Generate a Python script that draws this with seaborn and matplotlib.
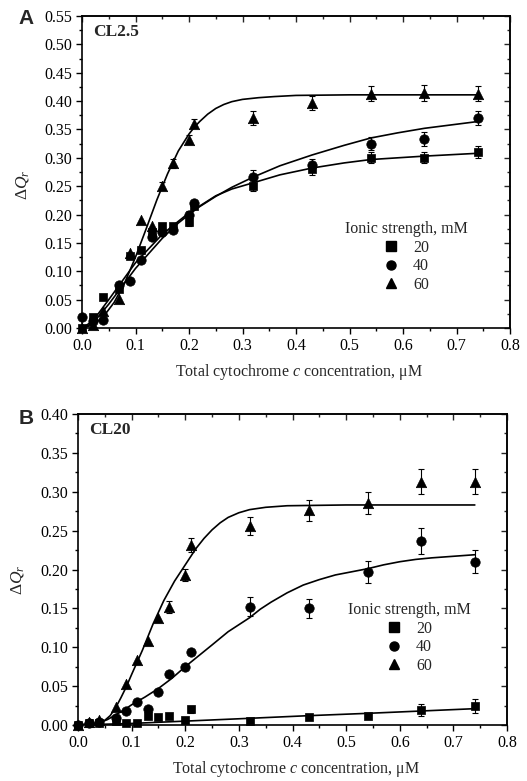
import numpy as np
import pandas as pd
import seaborn as sns
import matplotlib
matplotlib.use("Agg")
import matplotlib.pyplot as plt
from matplotlib.lines import Line2D
from matplotlib.ticker import MultipleLocator, FormatStrFormatter

sns.set_theme(style="ticks")
plt.rcParams["font.family"] = ["Liberation Serif", "DejaVu Serif"]
plt.rcParams["mathtext.fontset"] = "custom"
plt.rcParams["mathtext.rm"] = "Liberation Serif"
plt.rcParams["mathtext.it"] = "Liberation Serif:italic"

# ---- measured concentrations (µM) ----
conc = [0.00, 0.02, 0.04, 0.07, 0.09, 0.11, 0.13, 0.15, 0.17, 0.20, 0.21,
        0.32, 0.43, 0.54, 0.64, 0.74]
ionic = [20, 40, 60]

# ---- panel A: CL2.5 ----
a_20 = [0.000, 0.020, 0.055, 0.068, 0.127, 0.138, 0.170, 0.180, 0.180, 0.186, 0.215,
        0.251, 0.280, 0.300, 0.300, 0.310]
a_40 = [0.020, 0.012, 0.014, 0.075, 0.082, 0.120, 0.161, 0.170, 0.173, 0.200, 0.220,
        0.267, 0.287, 0.325, 0.333, 0.370]
a_60 = [0.000, 0.005, 0.030, 0.052, 0.133, 0.190, 0.180, 0.250, 0.290, 0.332, 0.360,
        0.370, 0.397, 0.413, 0.415, 0.413]
a_20_err = [0, 0, 0, 0, 0, 0, 0, 0, 0, 0.006, 0.006, 0.010, 0.010, 0.010, 0.010, 0.010]
a_40_err = [0, 0, 0, 0, 0, 0, 0, 0, 0, 0.006, 0.006, 0.011, 0.011, 0.011, 0.012, 0.012]
a_60_err = [0, 0, 0, 0, 0, 0, 0, 0.007, 0.008, 0.008, 0.008, 0.012, 0.012, 0.013, 0.014, 0.013]

# fitted binding curves, panel A
fa_x_20 = [0.00, 0.02, 0.05, 0.10, 0.15, 0.18, 0.20, 0.22, 0.25, 0.28, 0.32, 0.37,
           0.43, 0.49, 0.54, 0.64, 0.74]
fa_y_20 = [0.000, 0.012, 0.050, 0.115, 0.165, 0.188, 0.203, 0.215, 0.233, 0.245, 0.256, 0.270,
           0.282, 0.291, 0.297, 0.303, 0.308]
fa_x_40 = [0.00, 0.02, 0.05, 0.10, 0.15, 0.18, 0.20, 0.22, 0.25, 0.28, 0.32, 0.37,
           0.43, 0.49, 0.54, 0.59, 0.64, 0.69, 0.74]
fa_y_40 = [0.000, 0.008, 0.042, 0.105, 0.158, 0.185, 0.200, 0.214, 0.232, 0.248, 0.266, 0.286,
           0.305, 0.322, 0.335, 0.344, 0.352, 0.358, 0.364]
fa_x_60 = [0.00, 0.02, 0.04, 0.06, 0.08, 0.10, 0.12, 0.14, 0.16, 0.18, 0.20, 0.21,
           0.22, 0.235, 0.25, 0.265, 0.28, 0.30, 0.33, 0.36, 0.40, 0.50, 0.74]
fa_y_60 = [0.000, 0.005, 0.020, 0.045, 0.080, 0.125, 0.175, 0.226, 0.272, 0.312, 0.342, 0.354,
           0.364, 0.377, 0.387, 0.394, 0.399, 0.403, 0.406, 0.408, 0.410, 0.411, 0.411]

# ---- panel B: CL20 ----
b_20 = [0.000, 0.002, 0.002, 0.005, 0.002, 0.003, 0.011, 0.010, 0.012, 0.006, 0.020,
        0.005, 0.010, 0.011, 0.019, 0.024]
b_40 = [0.000, 0.002, 0.004, 0.009, 0.018, 0.029, 0.020, 0.043, 0.066, 0.074, 0.094,
        0.152, 0.150, 0.197, 0.237, 0.210]
b_60 = [0.000, 0.004, 0.007, 0.023, 0.053, 0.083, 0.108, 0.137, 0.152, 0.193, 0.231,
        0.256, 0.276, 0.286, 0.313, 0.313]
b_20_err = [0, 0, 0, 0, 0, 0, 0, 0, 0, 0, 0.004, 0, 0, 0, 0.008, 0.009]
b_40_err = [0, 0, 0, 0, 0, 0, 0, 0, 0, 0, 0, 0.012, 0.012, 0.014, 0.017, 0.015]
b_60_err = [0, 0, 0, 0, 0, 0, 0, 0, 0.008, 0.008, 0.009, 0.012, 0.014, 0.014, 0.016, 0.016]

fb_x_20 = [0.00, 0.10, 0.20, 0.30, 0.43, 0.54, 0.64, 0.74]
fb_y_20 = [0.000, 0.002, 0.005, 0.008, 0.012, 0.015, 0.018, 0.021]
fb_x_40 = [0.00, 0.04, 0.055, 0.07, 0.085, 0.10, 0.125, 0.15, 0.175, 0.20, 0.225, 0.25,
           0.28, 0.30, 0.32, 0.34, 0.36, 0.39, 0.42, 0.45, 0.48, 0.51, 0.54, 0.57,
           0.60, 0.63, 0.66, 0.70, 0.74]
fb_y_40 = [0.000, 0.003, 0.007, 0.013, 0.019, 0.026, 0.036, 0.047, 0.060, 0.075, 0.089, 0.103,
           0.120, 0.129, 0.138, 0.149, 0.158, 0.170, 0.180, 0.187, 0.193, 0.197, 0.201, 0.206,
           0.210, 0.213, 0.215, 0.217, 0.219]
fb_x_60 = [0.00, 0.04, 0.05, 0.06, 0.07, 0.08, 0.09, 0.10, 0.12, 0.14, 0.16, 0.18,
           0.20, 0.22, 0.235, 0.25, 0.265, 0.28, 0.30, 0.32, 0.35, 0.39, 0.50, 0.74]
fb_y_60 = [0.000, 0.002, 0.006, 0.012, 0.022, 0.035, 0.049, 0.065, 0.096, 0.130, 0.160, 0.185,
           0.206, 0.227, 0.240, 0.251, 0.260, 0.267, 0.273, 0.277, 0.280, 0.282, 0.283, 0.283]

markers = {20: "s", 40: "o", 60: "^"}
msize = {20: 38, 40: 46, 60: 56}

fig = plt.figure(figsize=(5.27, 7.81), dpi=100)
axA = fig.add_axes([82 / 527, 1 - 328 / 781, 428 / 527, 312 / 781])
axB = fig.add_axes([78 / 527, 1 - 725 / 781, 429 / 527, 311 / 781])

def draw_panel(ax, ys, errs, fits, ymax, tag, lbl_y, legend_xy):
    for I, y, e, (fx, fy) in zip(ionic, ys, errs, fits):
        fit_df = pd.DataFrame({"x": fx, "y": fy})
        sns.lineplot(data=fit_df, x="x", y="y", ax=ax, color="black", lw=1.2,
                     estimator=None, sort=False, zorder=2)
        xs = np.array(conc)
        ya = np.array(y)
        ea = np.array(e)
        m = ea > 0
        ax.errorbar(xs[m], ya[m], yerr=ea[m], fmt="none", ecolor="black",
                    elinewidth=0.8, capsize=2.5, capthick=0.8, zorder=3)
        pts = pd.DataFrame({"x": conc, "y": y})
        sns.scatterplot(data=pts, x="x", y="y", ax=ax, marker=markers[I],
                        s=msize[I], color="black", edgecolor="black",
                        linewidth=0.5, zorder=4, legend=False, clip_on=False)
    ax.set_xlim(0, 0.8)
    ax.set_ylim(0, ymax)
    ax.xaxis.set_major_locator(MultipleLocator(0.1))
    ax.xaxis.set_minor_locator(MultipleLocator(0.05))
    ax.yaxis.set_major_locator(MultipleLocator(0.05))
    ax.yaxis.set_minor_locator(MultipleLocator(0.025))
    ax.xaxis.set_major_formatter(FormatStrFormatter("%.1f"))
    ax.yaxis.set_major_formatter(FormatStrFormatter("%.2f"))
    for s in ax.spines.values():
        s.set_visible(True)
        s.set_linewidth(1.2)
        s.set_color("black")
    ax.tick_params(which="both", direction="out", top=False, right=False,
                   labelsize=11.5, color="black", labelcolor="black", width=1.0)
    ax.tick_params(which="major", length=4.5, pad=2.5)
    ax.tick_params(which="minor", length=2.5)
    # mirrored inward ticks on the top and right frame
    top = ax.secondary_xaxis("top")
    top.xaxis.set_major_locator(MultipleLocator(0.1))
    top.xaxis.set_minor_locator(MultipleLocator(0.05))
    top.tick_params(which="both", direction="in", width=1.0, labeltop=False)
    right = ax.secondary_yaxis("right")
    right.yaxis.set_major_locator(MultipleLocator(0.05))
    right.yaxis.set_minor_locator(MultipleLocator(0.025))
    right.tick_params(which="both", direction="in", width=1.0, labelright=False)
    for sec in (top, right):
        sec.tick_params(which="major", length=4.5)
        sec.tick_params(which="minor", length=2.5)
        for s in sec.spines.values():
            s.set_linewidth(1.2)
    ax.set_xlabel("Total cytochrome $\\mathit{c}$ concentration, \u03bcM", fontsize=11.5,
                  va="center")
    ax.xaxis.set_label_coords(0.507, -44 / 312)
    ax.set_ylabel("$\\Delta\\mathit{Q}_{r}$", fontsize=12.5, va="center")
    ax.yaxis.set_label_coords(-0.14, lbl_y)
    ax.text(0.025, 0.95, tag, transform=ax.transAxes, fontsize=12.5,
            fontweight="bold", ha="left", va="center")
    handles = [Line2D([], [], marker=markers[I], color="black", linestyle="none",
                      markersize=6.5) for I in ionic]
    ax.legend(handles, [str(I) for I in ionic], title="Ionic strength, mM",
              loc="center", bbox_to_anchor=legend_xy, bbox_transform=fig.transFigure,
              frameon=False, fontsize=11.5, title_fontsize=11.5,
              handlelength=1.0, handletextpad=0.9, labelspacing=0.15,
              borderpad=0.2)

draw_panel(axA, [a_20, a_40, a_60], [a_20_err, a_40_err, a_60_err],
           [(fa_x_20, fa_y_20), (fa_x_40, fa_y_40), (fa_x_60, fa_y_60)],
           0.55, "CL2.5", 0.458, (406 / 527, 1 - 257 / 781))
draw_panel(axB, [b_20, b_40, b_60], [b_20_err, b_40_err, b_60_err],
           [(fb_x_20, fb_y_20), (fb_x_40, fb_y_40), (fb_x_60, fb_y_60)],
           0.40, "CL20", 0.466, (409 / 527, 1 - 638 / 781))

fig.text(26 / 527, 1 - 18 / 781, "A", fontsize=15, fontweight="bold",
         family=["Liberation Sans", "DejaVu Sans"], ha="center", va="center")
fig.text(26 / 527, 1 - 419 / 781, "B", fontsize=15, fontweight="bold",
         family=["Liberation Sans", "DejaVu Sans"], ha="center", va="center")

fig.savefig("out.png", dpi=100, facecolor="white")
